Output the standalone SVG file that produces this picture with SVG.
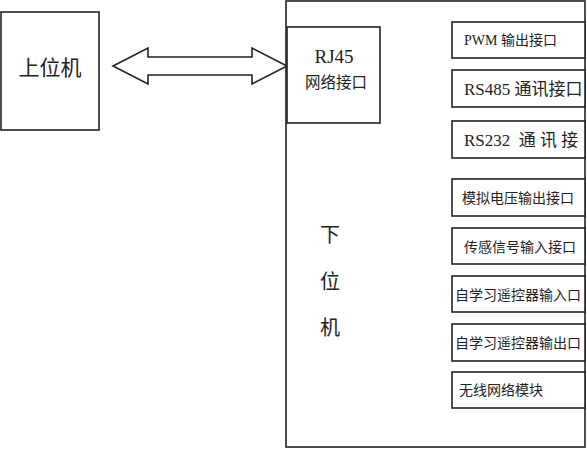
<svg xmlns="http://www.w3.org/2000/svg" width="587" height="450" viewBox="0 0 587 450">
<style>
.b{fill:#fff;stroke:#222;stroke-width:1.6}
.t{font-family:"Liberation Serif","Noto Sans CJK SC",serif;fill:#222}
.s{font-size:14px}
</style>
<rect width="587" height="450" fill="#fff"/>
<g id="host">
<rect class="b" x="1" y="12" width="98" height="118"/>
<text class="t" x="50" y="75" font-size="21" text-anchor="middle">上位机</text>
</g>
<g id="connectors">
<polygon class="b" points="113,66 148,48 148,57 252,57 252,48 287,66 252,84 252,75 148,75 148,84"/>
</g>
<g id="slave">
<rect class="b" x="286" y="1" width="299" height="446"/>
<text class="t" x="330" y="242" font-size="20" text-anchor="middle">下</text>
<text class="t" x="330" y="289" font-size="20" text-anchor="middle">位</text>
<text class="t" x="330" y="335" font-size="20" text-anchor="middle">机</text>
</g>
<g id="rj45">
<rect class="b" x="287" y="27" width="93" height="96"/>
<text class="t" x="334" y="63" font-size="19" text-anchor="middle">RJ45</text>
<text class="t" x="336" y="88" font-size="15.5" text-anchor="middle">网络接口</text>
</g>
<g id="pwm">
<rect class="b" x="452" y="22" width="133" height="36"/>
<text class="t" x="464" y="45" font-size="14">PWM 输出接口</text>
</g>
<g id="rs485">
<rect class="b" x="452" y="70" width="133" height="37"/>
<text class="t" x="464" y="95" font-size="17">RS485 通讯接口</text>
</g>
<g id="rs232">
<rect class="b" x="452" y="121" width="133" height="37"/>
<text class="t" x="464" y="146" font-size="17" xml:space="preserve">RS232  通 讯 接</text>
</g>
<g id="analog">
<rect class="b" x="452" y="179" width="133" height="37"/>
<text class="t s" x="462" y="203">模拟电压输出接口</text>
</g>
<g id="sensor">
<rect class="b" x="452" y="228" width="133" height="36"/>
<text class="t s" x="464" y="252">传感信号输入接口</text>
</g>
<g id="remote-in">
<rect class="b" x="452" y="276" width="133" height="36"/>
<text class="t s" x="455" y="300">自学习遥控器输入口</text>
</g>
<g id="remote-out">
<rect class="b" x="452" y="324" width="133" height="37"/>
<text class="t s" x="455" y="348">自学习遥控器输出口</text>
</g>
<g id="wireless">
<rect class="b" x="452" y="372" width="133" height="36"/>
<text class="t s" x="459" y="395">无线网络模块</text>
</g>
</svg>
